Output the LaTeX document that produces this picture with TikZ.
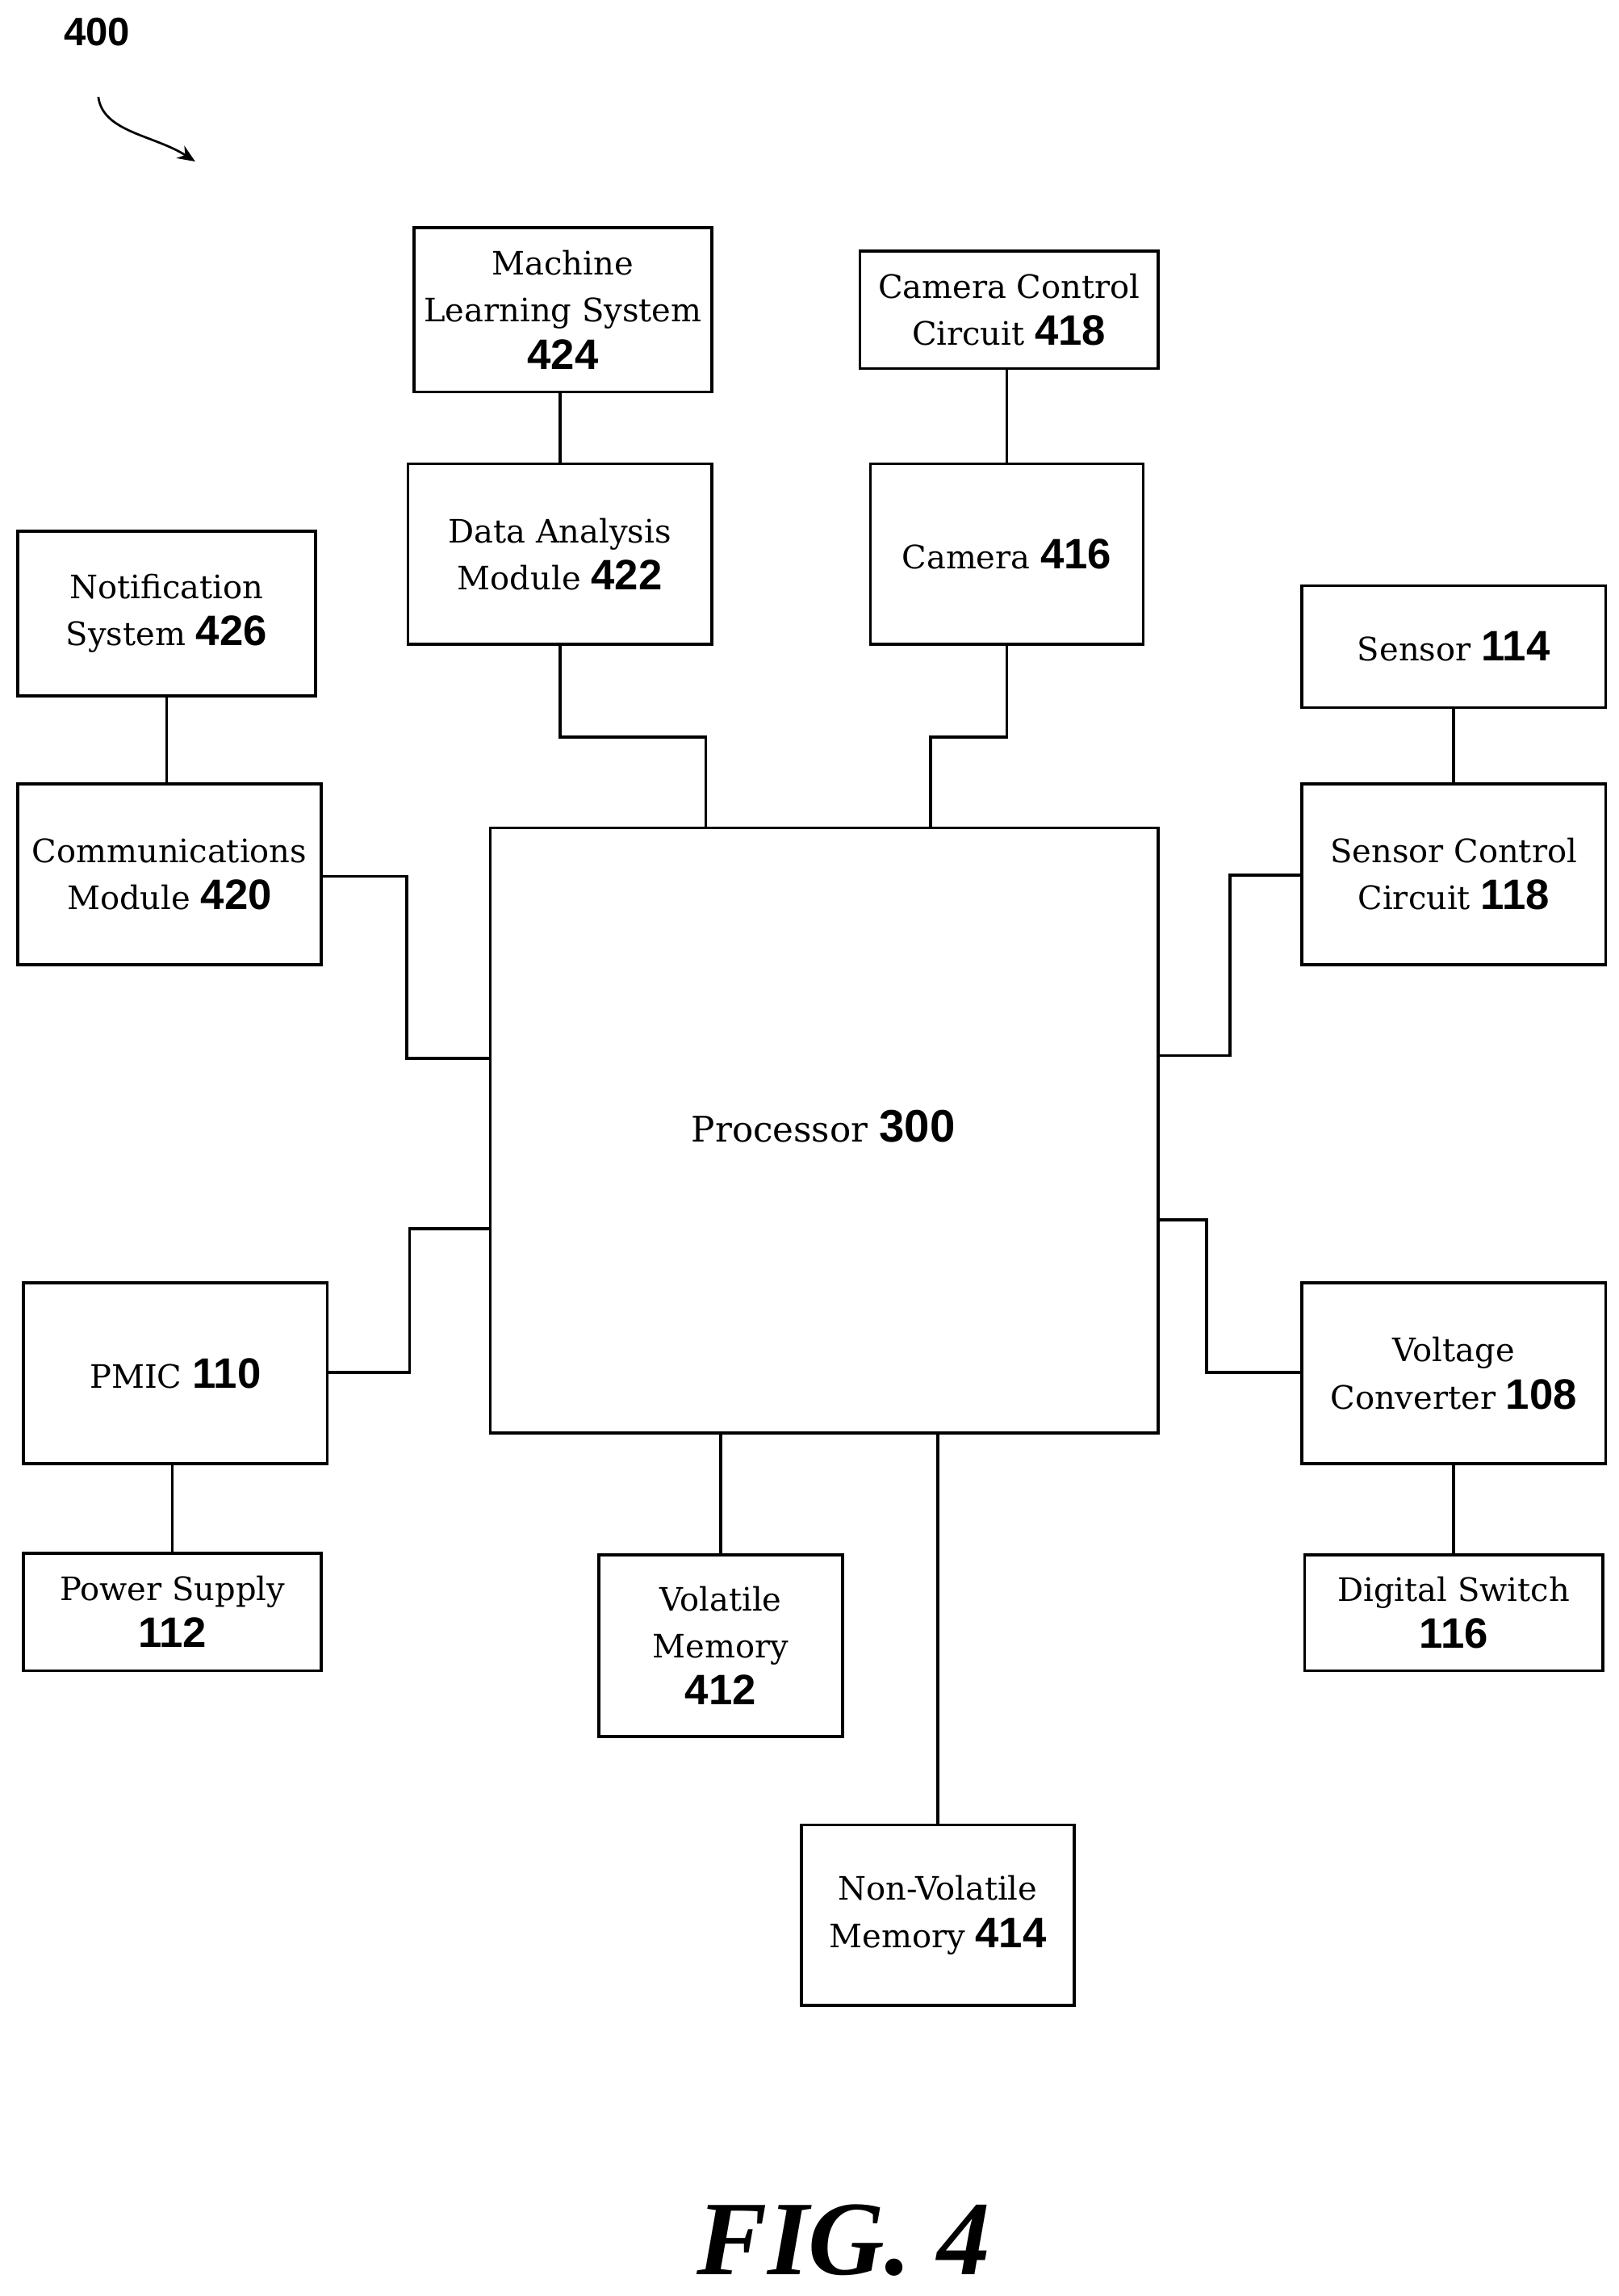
\documentclass[tikz,border=0pt]{standalone}
\usepackage{fontspec}
\usetikzlibrary{arrows.meta}
\setmainfont{DejaVu Serif}
\newfontfamily\numf{Liberation Sans}
\newfontfamily\figf{Liberation Serif}
\newcommand{\nb}[1]{{\numf\bfseries\fontsize{29}{30}\selectfont #1}}
\begin{document}
\begin{tikzpicture}[x=1pt,y=-1pt,line width=2pt,
  box/.style={draw,rectangle,align=center,inner sep=0pt,font=\fontsize{22}{32}\selectfont}]
\useasboundingbox (0,0) rectangle (1103,1564);
\newcommand{\bx}[6]{\node[box,minimum width=#4-#2,minimum height=#5-#3] (#1) at ({(#2+#4)/2},{(#3+#5)/2}) {#6};}
\bx{ml}{282}{155}{485}{267}{Machine\\Learning System\\\nb{424}}
\bx{cc}{586}{171}{789}{251}{Camera Control\\Circuit \nb{418}}
\bx{da}{278}{316}{485}{439}{Data Analysis\\Module \nb{422}}
\bx{cam}{593}{316}{779}{439}{Camera \nb{416}}
\bx{ns}{12}{362}{215}{474}{Notification\\System \nb{426}}
\bx{sen}{887}{399}{1094}{482}{Sensor \nb{114}}
\bx{com}{12}{534}{219}{657}{Communications\\Module \nb{420}}
\bx{scc}{887}{534}{1094}{657}{Sensor Control\\Circuit \nb{118}}
\bx{proc}{334}{564}{789}{976}{}
\node[font=\fontsize{24}{32}\selectfont] (proct) at (561,767) {Processor {\numf\bfseries\fontsize{31}{32}\selectfont 300}};
\bx{pmic}{16}{874}{223}{997}{PMIC \nb{110}}
\bx{vc}{887}{874}{1094}{997}{Voltage\\Converter \nb{108}}
\bx{ps}{16}{1058}{219}{1138}{Power Supply\\\nb{112}}
\bx{vm}{408}{1059}{574}{1183}{Volatile\\Memory\\\nb{412}}
\bx{ds}{889}{1059}{1092}{1138}{Digital Switch\\\nb{116}}
\bx{nv}{546}{1243}{732}{1366}{Non-Volatile\\Memory \nb{414}}
\coordinate (p1) at (481,564);
\coordinate (p2) at (634,564);
\coordinate (p3) at (334,721);
\coordinate (p4) at (789,719);
\coordinate (p5) at (334,837);
\coordinate (p6) at (789,831);
\coordinate (p7) at (491,976);
\coordinate (p8) at (639,976);
\draw (da.north) -- (ml.south -| da.north);
\draw (cam.north) -- (cc.south -| cam.north);
\draw (ns.south) -- (com.north -| ns.south);
\draw (sen.south) -- (scc.north);
\draw (ps.north) -- (pmic.south -| ps.north);
\draw (vc.south) -- (ds.north -| vc.south);
\draw (da.south) -- ++(0,62) -| (p1);
\draw (cam.south) -- ++(0,62) -| (p2);
\draw (com.east |- 0,597) -- (277,597) |- (p3);
\draw (scc.west |- 0,596) -- (838,596) |- (p4);
\draw (p5) -- (279,837) |- (pmic.east |- 0,935);
\draw (p6) -- (822,831) |- (vc.west |- 0,935);
\draw (p7) -- (vm.north -| p7);
\draw (p8) -- (nv.north -| p8);
\node[font=\numf\bfseries\fontsize{27}{28}\selectfont] (lbl) at (66,22) {400};
\draw[-{Stealth[length=12pt,width=10pt]},line width=1.5pt] (67,66) .. controls (70,90) and (105,92) .. (133,110);
\node[font=\figf\bfseries\itshape\fontsize{72}{72}\selectfont] (fig) at (575,1526) {FIG. 4};
\end{tikzpicture}
\end{document}
